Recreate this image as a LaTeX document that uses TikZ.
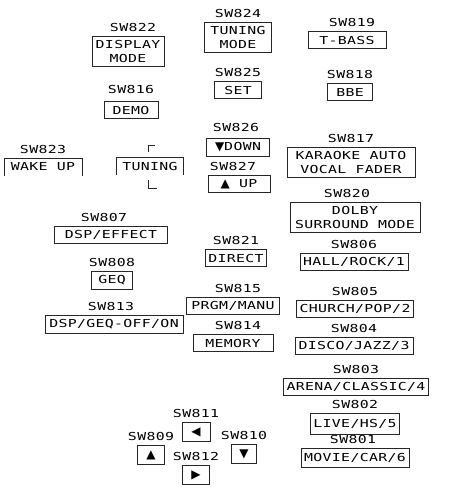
\documentclass[tikz,border=0pt]{standalone}
\usepackage{fontspec}
\setmonofont{DejaVu Sans Mono}[FakeStretch=1.35,LetterSpace=3]
\newfontfamily\symfont{DejaVu Sans}
\usetikzlibrary{positioning}
\newcommand\keyfont{\fontsize{11}{14}\ttfamily\selectfont}
\newcommand\tri[1]{{\symfont\fontsize{12}{12}\selectfont #1}}
\tikzset{
  keybox/.style={
    draw=black!85,
    line width=0.6pt,
    inner xsep=3pt,
    inner ysep=4pt,
    minimum height=17pt,
    align=center,
    font=\keyfont
  },
  open keybox/.style={
    keybox,
    draw=none
  },
  swlabel/.style={
    inner sep=0pt,
    font=\keyfont
  }
}

\begin{document}
\begin{tikzpicture}[x=1pt, y=-1pt, node distance=4pt]
 \useasboundingbox (0,0) rectangle (455,488);
 % left and middle columns
 \node[keybox, minimum width=72pt] (dispmode) at (128,51) {DISPLAY\\MODE};
 \node[swlabel, above=of dispmode, xshift=5pt] (sw822) {SW822};
 \node[keybox, minimum width=54pt] (demo) at (131,110) {DEMO};
 \node[swlabel, above=7pt of demo] (sw816) {SW816};
 \node[keybox, minimum width=67pt] (tunmode) at (238,37) {TUNING\\MODE};
 \node[swlabel, above=of tunmode] (sw824) {SW824};
 \node[keybox, minimum width=47pt] (set) at (238,90) {SET};
 \node[swlabel, above=of set] (sw825) {SW825};
 \node[keybox, minimum width=63pt, inner xsep=2pt] (down) at (238,147) {\tri{▼}DOWN};
 \node[swlabel, above=6pt of down, xshift=-2pt] (sw826) {SW826};
 \node[keybox, minimum width=62pt] (up) at (239,184) {\tri{▲} UP};
 \node[swlabel, above=of up, xshift=-6pt] (sw827) {SW827};
 \node[open keybox, minimum width=77pt] (wake) at (43,167) {WAKE UP};
 \node[swlabel, above=of wake] (sw823) {SW823};
 \node[open keybox, minimum width=66pt] (tuning) at (150,166) {TUNING};
 \node[keybox, minimum width=113pt] (dspeff) at (111,235) {DSP/EFFECT};
 \node[swlabel, above=of dspeff, xshift=-7pt] (sw807) {SW807};
 \node[keybox, minimum width=41pt] (geq) at (112,280) {GEQ};
 \node[swlabel, above=of geq] (sw808) {SW808};
 \node[keybox, minimum width=138pt] (dspgeq) at (114,324) {DSP/GEQ-OFF/ON};
 \node[swlabel, above=of dspgeq, xshift=-3pt] (sw813) {SW813};
 \node[keybox, minimum width=57pt] (direct) at (236,258) {DIRECT};
 \node[swlabel, above=of direct] (sw821) {SW821};
 \node[keybox, minimum width=93pt] (prgm) at (233,306) {PRGM/MANU};
 \node[swlabel, above=of prgm, xshift=5pt] (sw815) {SW815};
 \node[keybox, minimum width=80pt] (memory) at (233,343) {MEMORY};
 \node[swlabel, above=of memory, xshift=5pt] (sw814) {SW814};
 % right column
 \node[keybox, minimum width=78pt] (tbass) at (347,40) {T-BASS};
 \node[swlabel, above=of tbass, xshift=5pt] (sw819) {SW819};
 \node[keybox, minimum width=45pt] (bbe) at (350,92) {BBE};
 \node[swlabel, above=of bbe] (sw818) {SW818};
 \node[keybox, minimum width=128pt] (karaoke) at (351,162) {KARAOKE AUTO\\VOCAL FADER};
 \node[swlabel, above=of karaoke] (sw817) {SW817};
 \node[keybox, minimum width=130pt] (dolby) at (355,217) {DOLBY\\SURROUND MODE};
 \node[swlabel, above=of dolby, xshift=-8pt] (sw820) {SW820};
 \node[keybox, minimum width=108pt] (hall) at (354,262) {HALL/ROCK/1};
 \node[swlabel, above=of hall] (sw806) {SW806};
 \node[keybox, minimum width=116pt] (church) at (355,309) {CHURCH/POP/2};
 \node[swlabel, above=of church] (sw805) {SW805};
 \node[keybox, minimum width=118pt] (disco) at (354,346) {DISCO/JAZZ/3};
 \node[swlabel, above=of disco] (sw804) {SW804};
 \node[keybox, minimum width=142pt] (arena) at (356,387) {ARENA/CLASSIC/4};
 \node[swlabel, above=of arena] (sw803) {SW803};
 \node[keybox, minimum width=85pt, minimum height=21pt] (live) at (355,424) {LIVE/HS/5};
 \node[swlabel, above=of live] (sw802) {SW802};
 \node[keybox, minimum width=90pt, minimum height=19pt] (movie) at (355,458) {MOVIE/CAR/6};
 \node[swlabel, above=of movie, xshift=-2pt] (sw801) {SW801};
 % cursor keys
 \node[keybox, minimum width=28pt, minimum height=19pt, inner ysep=2pt] (kleft) at (196,432) {\tri{◀}};
 \node[swlabel, above=of kleft] (sw811) {SW811};
 \node[keybox, minimum width=27pt, minimum height=19pt, inner ysep=2pt] (kup) at (151,455) {\tri{▲}};
 \node[swlabel, above=of kup] (sw809) {SW809};
 \node[keybox, minimum width=25pt, minimum height=19pt, inner ysep=2pt] (kdown) at (244,454) {\tri{▼}};
 \node[swlabel, above=of kdown] (sw810) {SW810};
 \node[keybox, minimum width=27pt, minimum height=19pt, inner ysep=2pt] (kright) at (196,475) {\tri{▶}};
 \node[swlabel, above=of kright] (sw812) {SW812};
 % boxes left open at the bottom, tuning marks
 \draw[black!85, line width=0.6pt] (wake.south west) |- (wake.north east) -- (wake.south east);
 \draw[black!85, line width=0.6pt] (tuning.south west) |- (tuning.north east) -- (tuning.south east);
 \draw[black!85, line width=0.6pt] ([shift={(-2,-5)}]tuning.north) |- ++(7,-7);
 \draw[black!85, line width=0.6pt] ([shift={(-2,5)}]tuning.south) |- ++(9,8);
\end{tikzpicture}
\end{document}
